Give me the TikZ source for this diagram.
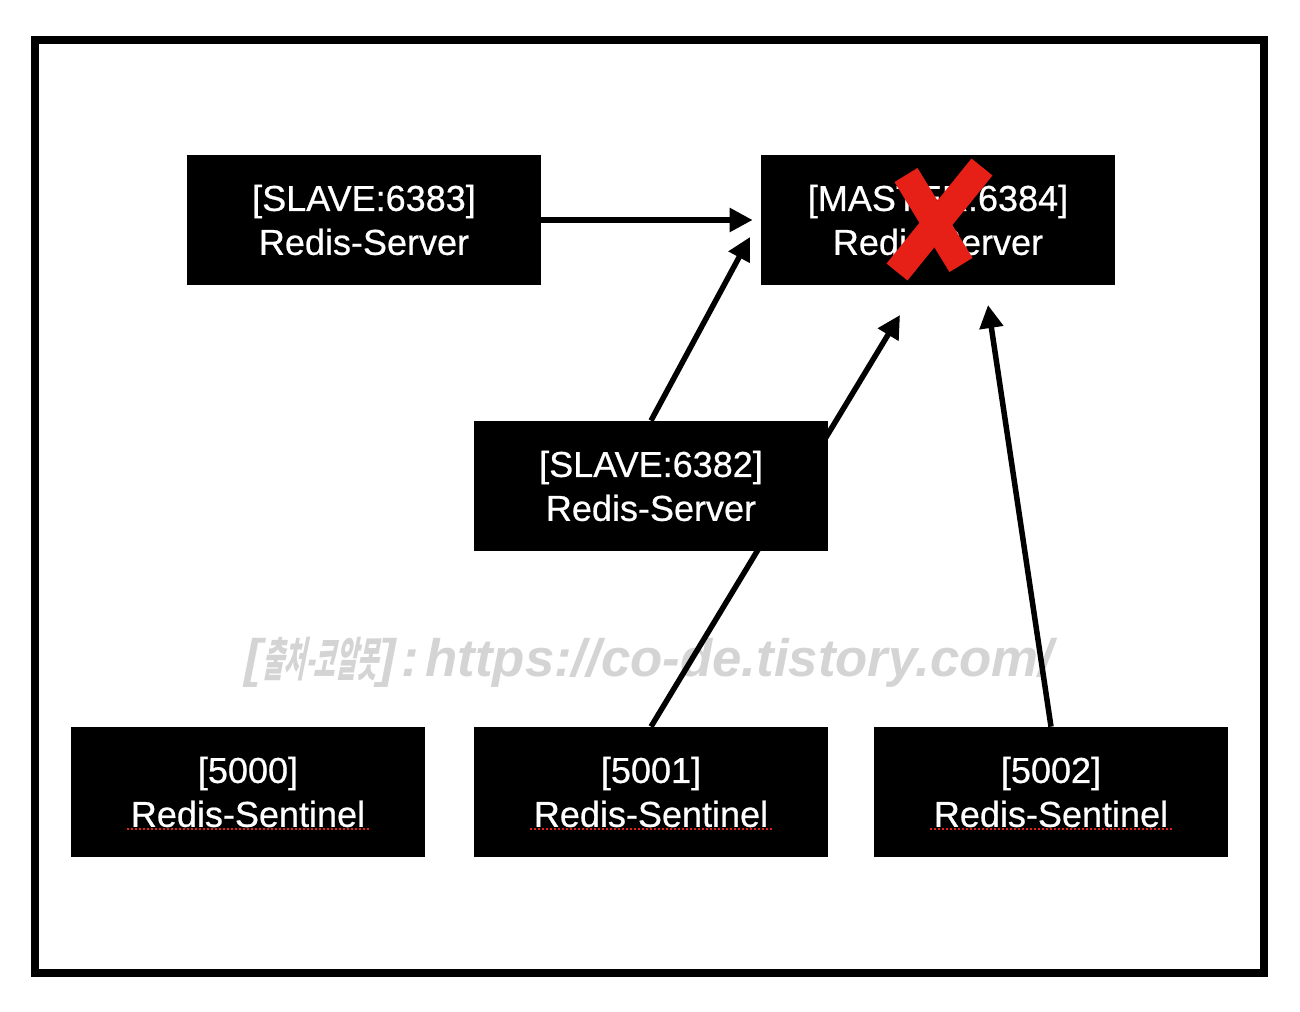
\documentclass[tikz,border=0pt]{standalone}
\usepackage{fontspec}
\setmainfont{Liberation Sans}
\newfontfamily\boxfont[FakeBold=0.6]{Liberation Sans}
\newfontfamily\krfont[FakeSlant=0.2,FakeStretch=0.5]{Noto Sans CJK KR}
\usetikzlibrary{arrows.meta}
\definecolor{crossred}{RGB}{230,32,22}
\definecolor{markgray}{RGB}{212,212,212}
\tikzset{
  redisbox/.style={fill=black,text=white,align=center,inner sep=0pt,
    minimum width=70.8mm,minimum height=26mm,font=\boxfont\fontsize{20.5}{25}\selectfont},
  link/.style={line width=1.1mm,-{Triangle[length=4.6mm,width=4.6mm]}},
  spellmark/.style={crossred,line width=0.4mm,dash pattern=on 0.4mm off 0.4mm},
}

\begin{document}
\begin{tikzpicture}[x=0.2mm,y=-0.2mm]
  \useasboundingbox (0,0) rectangle (1300,1012);
  \fill[white] (0,0) rectangle (1300,1012);
  \draw[line width=1.6mm] (35,40) rectangle (1264,973);

  % watermark
  \node[markgray,font=\fontsize{30}{32}\selectfont\bfseries\itshape] (mark) at (649,662)
    {[{\krfont\bfseries\fontsize{26.5}{28}\selectfont 출처-코알못}]\hspace{3pt}:\hspace{4pt}https://co-de.tistory.com/};

  % servers
  \node[redisbox] (s6383) at (364,220) {[SLAVE:6383]\\Redis-Server};
  \node[redisbox] (m6384) at (938,220) {[MASTER:6384]\\Redis-Server};

  % sentinels
  \node[redisbox] (t5000) at (248,792) {[5000]\\Redis-Sentinel};
  \node[redisbox] (t5001) at (651,792) {[5001]\\Redis-Sentinel};
  \node[redisbox] (t5002) at (1051,792) {[5002]\\Redis-Sentinel};
  \foreach \n in {t5000,t5001,t5002}
    \draw[spellmark] ([shift={(-121,37)}]\n.center) -- ++(242,0);

  \coordinate (hitA) at (750,237);
  \coordinate (hitB) at (900,315);
  \coordinate (hitC) at (988,305);

  % sentinel 5001 line runs behind slave 6382
  \draw[link] (t5001.north) -- (hitB);
  \node[redisbox] (s6382) at (651,486) {[SLAVE:6382]\\Redis-Server};

  \draw[link,shorten >=1.6mm] (s6383.east) -- (m6384.west);
  \draw[link] (s6382.north) -- (hitA);
  \draw[link] (t5002.north) -- (hitC);

  % master is down
  \draw[crossred,line width=5.4mm] (897,272) -- (982,167);
  \draw[crossred,line width=5.4mm] (906,175) -- (961,265);
\end{tikzpicture}
\end{document}
